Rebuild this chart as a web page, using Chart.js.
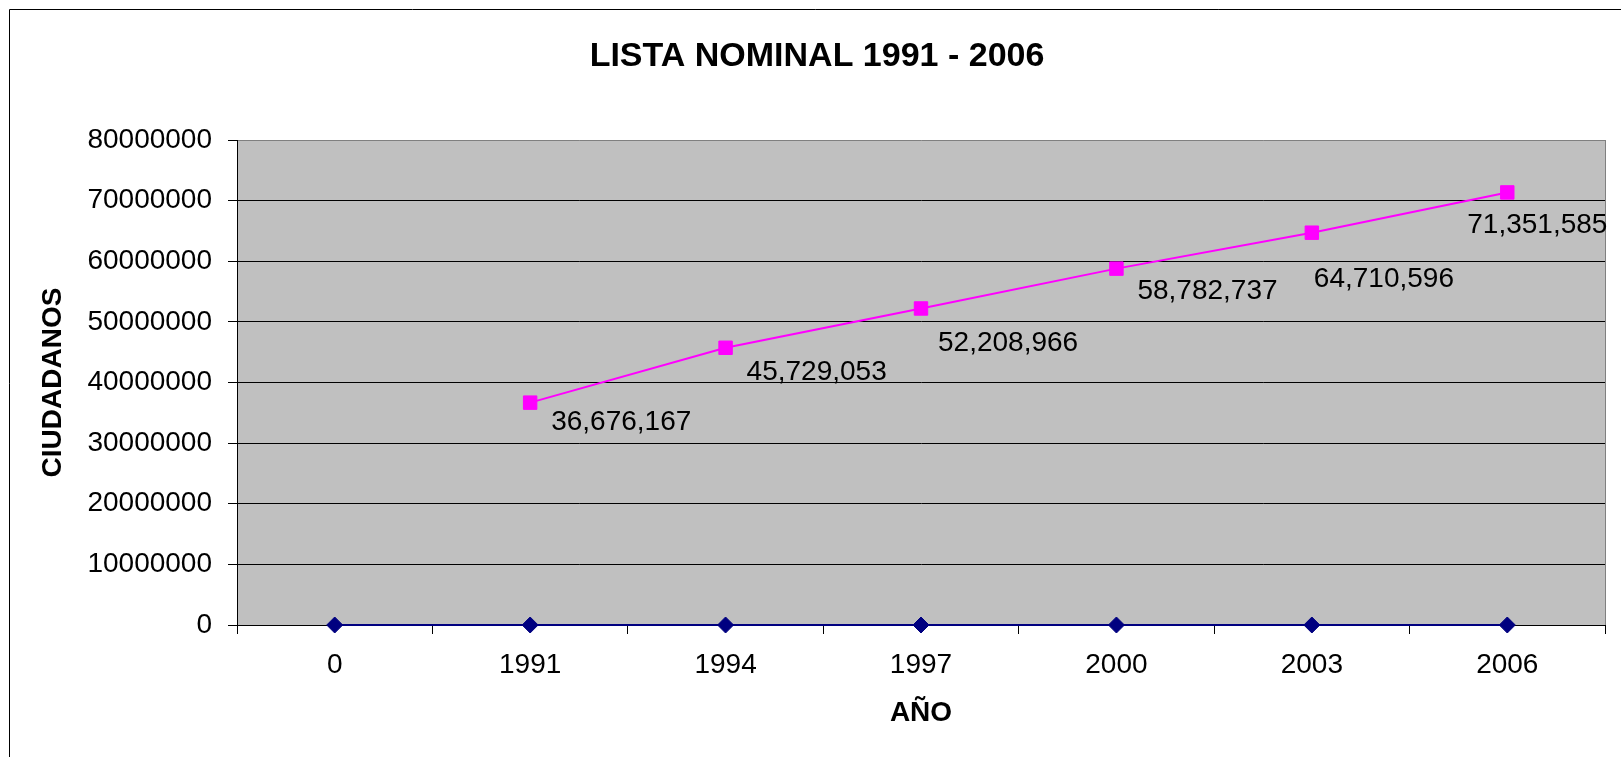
<!DOCTYPE html>
<html>
<head>
<meta charset="utf-8">
<script src="https://cdn.jsdelivr.net/npm/chart.js@4"></script>
<style>
  html, body { margin: 0; padding: 0; background: #fff; }
  canvas { display: block; }
</style>
</head>
<body>
<canvas id="c" width="1621" height="757"></canvas>
<script>
// ---- data ----
const categories = ['0', '1991', '1994', '1997', '2000', '2003', '2006'];
const baseSeries = [0, 0, 0, 0, 0, 0, 0];
const listaNominal = [null, 36676167, 45729053, 52208966, 58782737, 64710596, 71351585];
const yTicks = [0, 10000000, 20000000, 30000000, 40000000, 50000000, 60000000, 70000000, 80000000];

// label placement (style only): offset of label's left edge / vertical centre from its point
const labelOffsets = [null, [21, 17], [21, 22], [17, 33], [21, 20], [2, 44], [-40, 31]];

const FONT = "'Liberation Sans', Arial, sans-serif";

const bgPlugin = {
  id: 'bg',
  beforeDraw(chart) {
    const ctx = chart.ctx;
    const a = chart.chartArea;
    ctx.save();
    ctx.fillStyle = '#ffffff';
    ctx.fillRect(0, 0, chart.width, chart.height);
    ctx.fillStyle = '#C0C0C0';
    ctx.fillRect(a.left, a.top, a.right - a.left, a.bottom - a.top);
    // outer frame
    ctx.strokeStyle = '#000000';
    ctx.lineWidth = 1;
    ctx.beginPath();
    ctx.moveTo(9.5, chart.height + 1);
    ctx.lineTo(9.5, 9.5);
    ctx.lineTo(chart.width + 1, 9.5);
    ctx.stroke();
    ctx.restore();
  },
  beforeDatasetsDraw(chart) {
    const ctx = chart.ctx;
    const a = chart.chartArea;
    ctx.save();
    ctx.strokeStyle = '#808080';
    ctx.lineWidth = 1;
    ctx.beginPath();
    ctx.moveTo(Math.round(a.right) + 0.5, a.top);
    ctx.lineTo(Math.round(a.right) + 0.5, a.bottom);
    ctx.stroke();
    ctx.restore();
  }
};

const labelPlugin = {
  id: 'valueLabels',
  afterDatasetsDraw(chart) {
    const ctx = chart.ctx;
    const meta = chart.getDatasetMeta(1);
    ctx.save();
    ctx.font = '28px ' + FONT;
    ctx.fillStyle = '#000000';
    ctx.textAlign = 'left';
    ctx.textBaseline = 'alphabetic';
    meta.data.forEach((pt, i) => {
      const v = listaNominal[i];
      if (v === null || !labelOffsets[i]) return;
      const [dx, dy] = labelOffsets[i];
      ctx.fillText(v.toLocaleString('en-US'), pt.x + dx, pt.y + dy + 10);
    });
    ctx.restore();
  }
};

new Chart(document.getElementById('c'), {
  type: 'line',
  data: {
    labels: categories,
    datasets: [
      {
        label: 'Serie1',
        data: baseSeries,
        borderColor: '#000080',
        backgroundColor: '#000080',
        borderWidth: 2,
        pointStyle: 'rectRot',
        pointRadius: 8,
        pointBorderWidth: 1,
        pointBackgroundColor: '#000080',
        pointBorderColor: '#000080',
        tension: 0,
        clip: false
      },
      {
        label: 'Serie2',
        data: listaNominal,
        borderColor: '#FF00FF',
        backgroundColor: '#FF00FF',
        borderWidth: 2,
        pointStyle: 'rect',
        pointRadius: 9.5,
        pointBorderWidth: 1,
        pointBackgroundColor: '#FF00FF',
        pointBorderColor: '#FF00FF',
        tension: 0,
        spanGaps: false,
        clip: false
      }
    ]
  },
  options: {
    responsive: false,
    devicePixelRatio: 1,
    animation: false,
    events: [],
    layout: { padding: { left: 29, right: 16, top: 0, bottom: 0 } },
    plugins: {
      legend: { display: false },
      tooltip: { enabled: false },
      title: {
        display: true,
        text: 'LISTA NOMINAL 1991 - 2006',
        color: '#000000',
        font: { family: FONT, size: 34, weight: 'bold', lineHeight: 1.2 },
        padding: { top: 36.5, bottom: 62.7 }
      }
    },
    scales: {
      x: {
        type: 'category',
        offset: true,
        grid: {
          offset: true,
          drawOnChartArea: false,
          drawTicks: true,
          tickLength: 9,
          color: '#000000'
        },
        border: { display: true, color: '#000000', width: 1 },
        ticks: {
          color: '#000000',
          font: { family: FONT, size: 28 },
          padding: 14,
          maxRotation: 0,
          autoSkip: false
        },
        title: {
          display: true,
          text: 'AÑO',
          color: '#000000',
          font: { family: FONT, size: 28, weight: 'bold', lineHeight: 1.2 },
          padding: { top: 0, bottom: 27 }
        },
        afterFit(scale) { scale.height = 132; }
      },
      y: {
        min: 0,
        max: 80000000,
        afterBuildTicks(scale) { scale.ticks = yTicks.map(v => ({ value: v })); },
        grid: {
          color: ctx => (ctx.tick && ctx.tick.value === 80000000) ? '#808080' : '#000000',
          tickColor: '#000000',
          tickLength: 9,
          drawTicks: true
        },
        border: { display: true, color: '#000000', width: 1 },
        ticks: {
          color: '#000000',
          font: { family: FONT, size: 28 },
          padding: 16,
          callback: v => String(v)
        },
        title: {
          display: true,
          text: 'CIUDADANOS',
          color: '#000000',
          font: { family: FONT, size: 28, weight: 'bold', lineHeight: 1.2 },
          padding: { top: 7, bottom: 0 }
        },
        afterFit(scale) { scale.width = 208; }
      }
    }
  },
  plugins: [bgPlugin, labelPlugin]
});
</script>
</body>
</html>
